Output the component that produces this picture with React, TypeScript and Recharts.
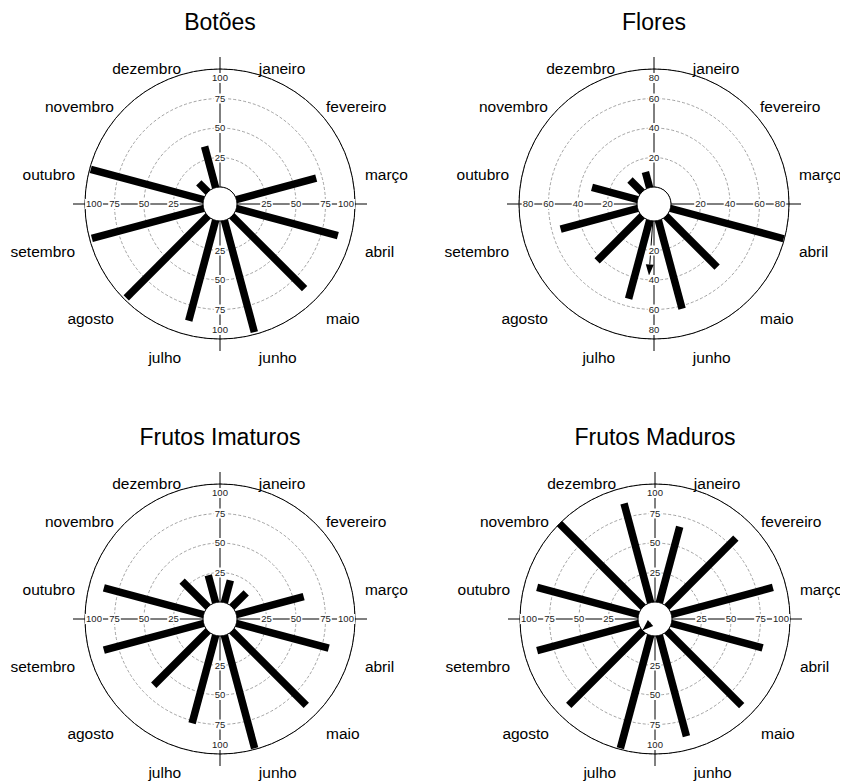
import { RadarChart, Radar, PolarGrid, PolarAngleAxis, PolarRadiusAxis } from 'recharts'

const FONT = 'Arial, "Liberation Sans", Helvetica, sans-serif'

// raio do círculo central, do anel externo (valor máximo) e do fim dos eixos
const INNER_R = 17
const RING_R = 135
const OUTER_R = 147

const months = [
  'janeiro', 'fevereiro', 'março', 'abril', 'maio', 'junho',
  'julho', 'agosto', 'setembro', 'outubro', 'novembro', 'dezembro',
]
// direção (graus, sentido horário a partir do topo) de cada mês
const monthBearings = [15, 45, 75, 105, 135, 165, 195, 225, 255, 285, 315, 345]

// % de indivíduos em cada fenofase
const botoes = [0, 0, 70, 89, 87, 98, 88, 98, 98, 99, 11, 36]
const flores = [0, 0, 0, 79.5, 49, 62, 55, 43, 54, 32, 11.5, 11]
const frutosImaturos = [19.5, 17, 59, 81, 89, 99, 77, 65, 87.5, 87.5, 31, 24]
const frutosMaduros = [66.5, 82.5, 89, 80, 89.5, 88.5, 99, 89, 89, 89, 100, 87]

// vetor médio (ângulo médio e comprimento)
const floresMeanBearing = 184
const floresMeanLength = 37
const maduroMeanBearing = 228
const maduroMeanLength = 0

const ticks100 = [25, 50, 75, 100]
const ticks80 = [20, 40, 60, 80]

interface Row {
  bearing: number
  value: number | null
  mean: number | null
}

function buildRows(values: number[], meanBearing?: number, meanLength?: number): Row[] {
  const rows: Row[] = values.map((v, i) => ({ bearing: monthBearings[i], value: v, mean: null }))
  if (meanBearing != null && meanLength != null) {
    rows.push({ bearing: meanBearing, value: null, mean: meanLength })
  }
  return rows.sort((a, b) => a.bearing - b.bearing)
}

const validPoints = (props: any) =>
  (props.points || []).filter((p: any) => p.value != null && Number.isFinite(p.x) && Number.isFinite(p.y))

// barras radiais de largura constante + círculo central
const SpokeShape = (props: any) => {
  const pts = validPoints(props)
  if (!pts.length) return null
  const cx = pts[0].cx ?? props.cx
  const cy = pts[0].cy ?? props.cy
  return (
    <g>
      {pts.map((p: any, i: number) => (
        <line key={i} x1={cx} y1={cy} x2={p.x} y2={p.y} stroke="#000" strokeWidth={7.5} />
      ))}
      <circle cx={cx} cy={cy} r={INNER_R} fill="#fff" stroke="#000" strokeWidth={1} />
    </g>
  )
}

const ArrowShape = (props: any) => {
  const pts = validPoints(props)
  return (
    <g>
      {pts.map((p: any, i: number) => {
        const cx = p.cx ?? props.cx
        const cy = p.cy ?? props.cy
        const len = Math.hypot(p.x - cx, p.y - cy) || 1
        const ux = (p.x - cx) / len
        const uy = (p.y - cy) / len
        const head = 11
        const hw = 4
        const bx = p.x - ux * head
        const by = p.y - uy * head
        const tri = `${p.x},${p.y} ${bx - uy * hw},${by + ux * hw} ${bx + uy * hw},${by - ux * hw}`
        return (
          <g key={i}>
            <line x1={cx + ux * INNER_R} y1={cy + uy * INNER_R} x2={bx} y2={by} stroke="#000" strokeWidth={1} />
            <polygon points={tri} fill="#000" />
          </g>
        )
      })}
    </g>
  )
}

const MonthTick = (props: any) => {
  const { x, y, textAnchor, payload } = props
  const i = monthBearings.indexOf(payload.value)
  return (
    <text x={x} y={y + 9} dy="0.35em" textAnchor={textAnchor} fontSize={15.5} fontFamily={FONT} fill="#000">
      {months[i]}
    </text>
  )
}

const RadiusTick = (props: any) => {
  const { x, y, payload, armAngle, max } = props
  let tx = x
  let ty = y
  if (payload.value === max) {
    const rad = (armAngle * Math.PI) / 180
    tx -= Math.cos(rad) * 9
    ty += Math.sin(rad) * 9
  }
  const label = String(payload.value)
  const w = label.length * 5.3 + 2
  return (
    <g>
      <rect x={tx - w / 2} y={ty - 5} width={w} height={10} fill="#fff" />
      <text x={tx} y={ty} dy="0.35em" textAnchor="middle" fontSize={9.5} fontFamily={FONT} fill="#222">
        {label}
      </text>
    </g>
  )
}

interface PanelProps {
  title: string
  values: number[]
  ticks: number[]
  meanBearing?: number
  meanLength?: number
  left: number
  top: number
  height: number
  cx: number
  cy: number
}

function RosePanel({ title, values, ticks, meanBearing, meanLength, left, top, height, cx, cy }: PanelProps) {
  const data = buildRows(values, meanBearing, meanLength)
  const max = ticks[ticks.length - 1]
  const domainMax = (max * (OUTER_R - INNER_R)) / (RING_R - INNER_R)
  const arms = [90, 0, 180, 270]

  return (
    <>
      <div
        style={{
          position: 'absolute',
          left,
          top: top - 29.5,
          width: 420,
          textAlign: 'center',
          fontFamily: FONT,
          fontSize: 23,
          lineHeight: '23px',
          paddingLeft: (cx - 210) * 2,
          boxSizing: 'border-box',
        }}
      >
        {title}
      </div>
      <div style={{ position: 'absolute', left, top, width: 420, height }}>
        <RadarChart
          width={420}
          height={height}
          data={data}
          cx={cx}
          cy={cy}
          innerRadius={INNER_R}
          outerRadius={OUTER_R}
          startAngle={90}
          endAngle={-270}
          margin={{ top: 0, right: 0, bottom: 0, left: 0 }}
        >
          <PolarGrid gridType="circle" radialLines={false} radiusAxisId="main" stroke="#8c8c8c" strokeWidth={0.8} strokeDasharray="3 2" />
          <PolarGrid gridType="circle" radialLines={false} polarRadius={[RING_R]} stroke="#000" strokeWidth={1} />
          <PolarGrid gridType="circle" polarAngles={[0, 90, 180, 270]} polarRadius={[]} innerRadius={0} stroke="#000" strokeWidth={1} />
          <PolarAngleAxis
            dataKey="bearing"
            type="number"
            domain={[0, 360]}
            ticks={monthBearings}
            tick={MonthTick}
            tickSize={3}
            axisLine={false}
            tickLine={false}
          />
          {arms.map(a => (
            <PolarRadiusAxis
              key={a}
              radiusAxisId={a === 90 ? 'main' : `r${a}`}
              angle={a}
              type="number"
              domain={[0, domainMax]}
              allowDataOverflow
              ticks={ticks}
              axisLine={false}
              tick={(p: any) => <RadiusTick {...p} armAngle={a} max={max} />}
            />
          ))}
          <Radar radiusAxisId="main" dataKey="value" shape={SpokeShape} isAnimationActive={false} />
          <Radar radiusAxisId="main" dataKey="mean" shape={ArrowShape} isAnimationActive={false} />
        </RadarChart>
      </div>
    </>
  )
}

export default function App() {
  return (
    <div
      style={{
        position: 'absolute',
        left: 0,
        top: 0,
        width: 841,
        height: 784,
        overflow: 'hidden',
        background: '#fff',
      }}
    >
      <RosePanel title="Botões" values={botoes} ticks={ticks100} left={0} top={40} height={340} cx={220} cy={164} />
      <RosePanel
        title="Flores"
        values={flores}
        ticks={ticks80}
        meanBearing={floresMeanBearing}
        meanLength={floresMeanLength}
        left={420}
        top={40}
        height={340}
        cx={234}
        cy={164}
      />
      <RosePanel title="Frutos Imaturos" values={frutosImaturos} ticks={ticks100} left={0} top={455} height={328} cx={220} cy={164} />
      <RosePanel
        title="Frutos Maduros"
        values={frutosMaduros}
        ticks={ticks100}
        meanBearing={maduroMeanBearing}
        meanLength={maduroMeanLength}
        left={420}
        top={455}
        height={328}
        cx={235}
        cy={164}
      />
    </div>
  )
}
